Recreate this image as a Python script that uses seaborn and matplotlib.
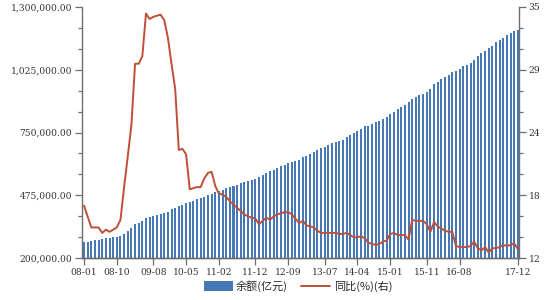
import numpy as np
import pandas as pd
import matplotlib
matplotlib.use("Agg")
import matplotlib.pyplot as plt
import seaborn as sns
from matplotlib.ticker import FixedLocator, FuncFormatter, AutoMinorLocator

# ---------------- data ----------------
months = pd.date_range("2008-01-01", periods=120, freq="MS").strftime("%y-%m").tolist()

balance = [
    269700, 271700, 274000, 277800, 280400, 283100, 286300, 288600, 291600, 293100, 297000, 303400,
    319600, 330300, 349200, 355100, 361800, 377100, 380600, 384800, 389900, 392400, 395400, 399700,
    413600, 420600, 425700, 433500, 439900, 445900, 451200, 456700, 462600, 468500, 474100, 479200,
    488800, 493700, 499900, 506700, 511800, 517600, 522100, 527100, 531400, 536800, 542000, 547900,
    555300, 562400, 572500, 579300, 587200, 596400, 601800, 608900, 615100, 620200, 625400, 629900,
    640600, 646800, 657400, 665300, 672000, 680600, 687600, 694700, 702600, 707700, 713900, 719000,
    732200, 738600, 749100, 756900, 765600, 776400, 780200, 787200, 795800, 801300, 809800, 816800,
    831500, 841700, 853500, 860600, 869600, 882400, 897200, 905300, 915800, 920900, 928000, 939500,
    964600, 971900, 985600, 991100, 1001000, 1014800, 1019400, 1028900, 1041100, 1047600, 1055600, 1066000,
    1086300, 1098000, 1108200, 1119200, 1130300, 1145700, 1154000, 1164900, 1177600, 1184200, 1195400, 1201300,
]

yoy = [
    16.8, 15.8, 14.8, 14.8, 14.8, 14.3, 14.6, 14.4, 14.6, 14.8, 15.5, 18.5,
    21.3, 24.2, 29.8, 29.8, 30.5, 34.4, 33.9, 34.1, 34.2, 34.3, 33.8, 32.2,
    29.8, 27.5, 21.9, 22.0, 21.5, 18.3, 18.4, 18.5, 18.5, 19.3, 19.8, 19.9,
    18.6, 17.9, 17.8, 17.6, 17.2, 16.9, 16.6, 16.3, 16.0, 15.8, 15.7, 15.6,
    15.1, 15.4, 15.7, 15.5, 15.8, 16.0, 16.1, 16.2, 16.2, 16.0, 15.6, 15.2,
    15.4, 15.0, 14.9, 14.8, 14.5, 14.3, 14.3, 14.3, 14.3, 14.3, 14.2, 14.2,
    14.3, 14.1, 13.9, 13.9, 14.0, 13.8, 13.4, 13.3, 13.2, 13.3, 13.5, 13.6,
    14.2, 14.3, 14.1, 14.1, 14.1, 13.7, 15.5, 15.4, 15.4, 15.4, 15.1, 14.4,
    15.3, 14.9, 14.7, 14.5, 14.4, 14.4, 13.1, 13.0, 13.0, 13.0, 13.1, 13.5,
    12.9, 12.7, 13.0, 12.5, 12.9, 12.9, 13.0, 13.2, 13.1, 13.2, 13.35, 12.8,
]

tick_labels = ["08-01", "08-10", "09-08", "10-05", "11-02", "11-12", "12-09",
               "13-07", "14-04", "15-01", "15-11", "16-08", "17-12"]

bar_name = "余额(亿元)"
line_name = "同比(%)(右)"

left_range = (200000, 1300000)
right_range = (12, 35)

df = pd.DataFrame({"month": months, "balance": balance, "yoy": yoy})
df["pos"] = np.arange(len(df))

# ---------------- style ----------------
sns.set_theme(style="ticks")
plt.rcParams["font.family"] = ["Noto Sans CJK SC", "DejaVu Sans"]

bar_color = "#4677b6"
line_color = "#bf4f38"
axis_color = "#6e6e6e"
tick_font = {"family": "DejaVu Serif", "size": 6.6, "color": "#333333"}

fig = plt.figure(figsize=(5.5, 3.0), dpi=100)
ax = fig.add_axes([82 / 550, 1 - 258 / 300, (519 - 82) / 550, (258 - 7) / 300])

sns.barplot(data=df, x="pos", y="balance", native_scale=True, color=bar_color,
            saturation=1, width=0.55, ax=ax, label=bar_name, linewidth=0)

ax2 = ax.twinx()
sns.lineplot(data=df, x="pos", y="yoy", color=line_color, linewidth=1.4,
             ax=ax2, label=line_name)

ax.set_xlim(-0.55, 119.3)
ax.set_ylim(*left_range)
ax2.set_ylim(*right_range)

# y ticks
ax.yaxis.set_major_locator(FixedLocator(np.linspace(*left_range, 5)))
ax.yaxis.set_major_formatter(FuncFormatter(lambda v, p: f"{v:,.2f}"))
ax.yaxis.set_minor_locator(AutoMinorLocator(3))
ax2.yaxis.set_major_locator(FixedLocator(np.linspace(*right_range, 5)))
ax2.yaxis.set_major_formatter(FuncFormatter(lambda v, p: f"{v:.0f}"))
ax2.yaxis.set_minor_locator(AutoMinorLocator(3))

# x ticks
tick_pos = [months.index(t) for t in tick_labels]
ax.set_xticks(tick_pos)
ax.set_xticklabels(tick_labels)

for a in (ax, ax2):
    a.set_xlabel("")
    a.set_ylabel("")
    for lab in a.get_xticklabels() + a.get_yticklabels():
        lab.set_fontfamily(tick_font["family"])
        lab.set_fontsize(tick_font["size"])
        lab.set_color(tick_font["color"])
    a.tick_params(which="major", length=5, width=0.9, color=axis_color, pad=2)
    a.tick_params(which="minor", length=3, width=0.9, color=axis_color)
    a.spines["top"].set_visible(False)
    for s in ("left", "right", "bottom"):
        a.spines[s].set_color(axis_color)
        a.spines[s].set_linewidth(1.0)
    if a.get_legend() is not None:
        a.get_legend().remove()

ax.spines["right"].set_visible(False)
ax2.spines["left"].set_visible(False)
ax.tick_params(axis="x", which="minor", length=0)

handles = [ax.containers[0], ax2.lines[0]]
fig.legend(handles, [bar_name, line_name], loc="center", bbox_to_anchor=(298 / 550, 1 - 286 / 300),
           ncol=2, frameon=False, fontsize=8, handlelength=2.6, handleheight=0.9,
           columnspacing=1.2, handletextpad=0.3)

fig.savefig("out.png", dpi=100)
